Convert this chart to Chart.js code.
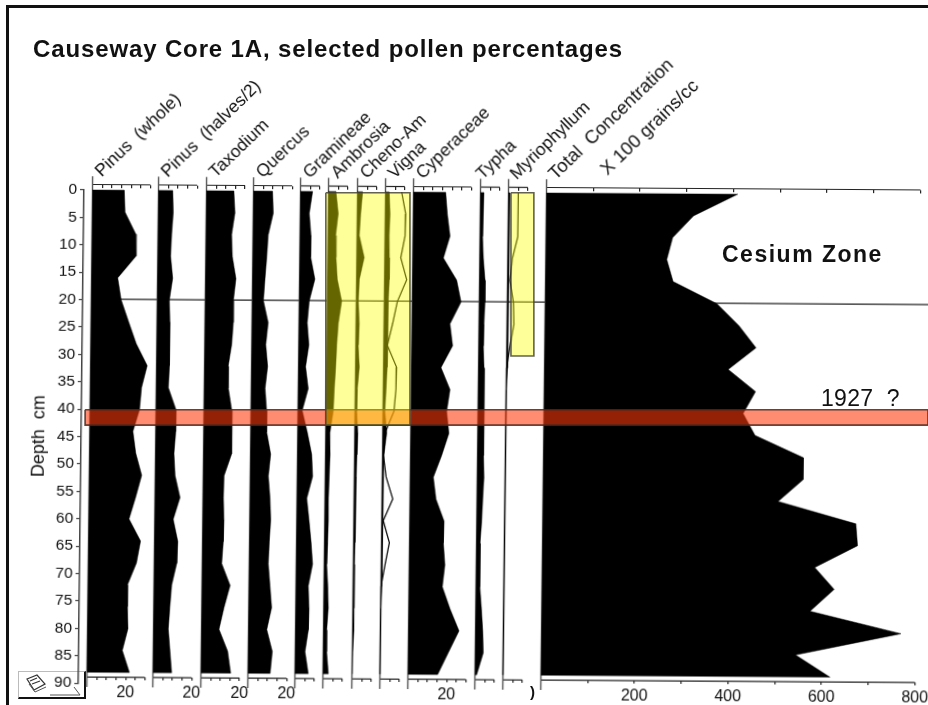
<!DOCTYPE html>
<html>
<head>
<meta charset="utf-8">
<title>Causeway Core 1A</title>
<script src="https://cdn.jsdelivr.net/npm/chart.js@4"></script>
<style>
    html, body { margin: 0; padding: 0; background: #fff; }
    body { width: 928px; height: 705px; overflow: hidden; position: relative; font-family: "Liberation Sans", Arial, sans-serif; color: #111; }
    #frameTop { position: absolute; left: 6px; top: 5px; width: 922px; height: 3px; background: #111; }
    #frameLeft { position: absolute; left: 6px; top: 5px; width: 3px; height: 700px; background: #111; }
    #mainChart { position: absolute; left: 0; top: 0; transform-origin: 92.5px 190px; transform: matrix(1, 0.0066, -0.0115, 1, 0, 0); filter: blur(0.35px); }
    #overlayChart { position: absolute; left: 0; top: 0; }
    .note { position: absolute; white-space: pre; }
    #title { left: 33px; top: 35px; font-size: 24px; font-weight: bold; letter-spacing: 0.87px; }
    #cesium { left: 722px; top: 241px; font-size: 23px; font-weight: bold; letter-spacing: 1.5px; }
    #year { left: 821px; top: 385px; font-size: 23px; letter-spacing: 0.3px; }
    #clipped { left: 530px; top: 683px; font-size: 15px; font-weight: bold; }
    #iconBox { position: absolute; left: 18px; top: 671px; width: 65px; height: 25px; background: #fff; border-left: 1px solid #bbb; border-top: 1px solid #bbb; border-right: 2px solid #111; border-bottom: 2px solid #111; }
</style>
</head>
<body>
<div id="iconBox">
    <svg width="65" height="25" viewBox="0 0 65 25">
        <path d="M8 7 L18 3 L26 12 L15 18 Z M11 9 L18 6 M13 12 L21 9" fill="none" stroke="#333" stroke-width="1.2"/>
        <path d="M10 12 L16 20 L27 15" fill="none" stroke="#555" stroke-width="1"/>
        <path d="M31 23 H61 L55 15" fill="none" stroke="#555" stroke-width="1"/>
    </svg>
</div>
<canvas id="mainChart" width="1000" height="705"></canvas>
<canvas id="overlayChart" width="928" height="705"></canvas>
<div id="frameTop"></div>
<div id="frameLeft"></div>
<div id="title" class="note">Causeway Core 1A, selected pollen percentages</div>
<div id="cesium" class="note">Cesium Zone</div>
<div id="year" class="note">1927  ?</div>
<div id="clipped" class="note">)</div>

<script>
// depth of each sample, cm
const depths = [0, 4, 8, 12, 16, 20, 24, 28, 32, 36, 40, 44, 48, 52, 56, 60, 64, 68, 72, 76, 80, 84, 88];

// pollen percentages
const pinusWhole  = [16.5, 17, 22.7, 23, 13.6, 15.5, 19.5, 23.6, 29.4, 26.6, 25.7, 22.4, 24, 27.2, 24.2, 20.9, 27, 25, 20.5, 20.6, 21, 18.2, 22];
const pinusHalves = [7.4, 7.8, 7.1, 6.7, 7.9, 6.3, 6.7, 6.9, 6.6, 6.3, 10.4, 10.4, 9.6, 10.3, 13, 9.6, 12.1, 11.7, 9.2, 8.4, 7.7, 8.7, 9.7];
const taxodium    = [14.2, 14.9, 13.3, 13.8, 15.8, 14.6, 14.7, 14, 12.3, 12.5, 14.4, 14.5, 14.7, 10.8, 10.6, 11, 10.8, 10.1, 14.6, 11.6, 9.1, 13.7, 15.4];
const quercus     = [9.9, 10.4, 7.9, 7.3, 6.5, 5.8, 8.4, 7.3, 8.4, 7.2, 8.1, 8.3, 10.5, 9.4, 10.4, 10.9, 10.3, 9.9, 10.9, 11.9, 9.5, 12.5, 11.5];
const gramineae   = [6.3, 4.7, 5.7, 5.7, 8, 5.2, 4.3, 5.3, 3.7, 5.2, 2.2, 5, 7.4, 8, 5.1, 6.4, 7.6, 8.5, 6.4, 6.9, 6.7, 5.1, 6.9];
const ambrosia    = [3.9, 5.2, 4, 4.3, 5.1, 7.5, 5.9, 5.2, 4.8, 4.2, 3.8, 2.2, 2.4, 2.1, 1.8, 1.9, 1.7, 1.3, 2, 2.4, 1.7, 1.8, 2.8];
const chenoAm     = [2.7, 1.8, 1.2, 3.9, 1.5, 1.1, 1.7, 1.3, 2, 1.1, 0.9, 1.6, 1.3, 1.1, 0.9, 0.8, 0.8, 0.7, 0.7, 0.7, 0.8, 0.3, 0.2];
const vigna       = [2, 2.5, 2.2, 2.4, 2.5, 2.1, 1.9, 1.9, 2, 1.5, 1, 2.1, 0.8, 0.7, 0.5, 0.5, 0.5, 0.5, 0.6, 0, 0, 0, 0];
const cyperaceae  = [16.7, 17.7, 19.2, 15.9, 22.9, 25.3, 19.7, 21.2, 15.3, 20.1, 18.5, 19.8, 16.2, 12, 13.5, 17.8, 17.6, 18.5, 17.3, 21.4, 26.2, 20.8, 15.4];
const typha       = [1.8, 1.3, 1.4, 1.9, 2.9, 3, 2.6, 2.4, 2.9, 3, 3.3, 3.3, 3.1, 3.5, 3, 2.6, 1.9, 2, 2.1, 3, 3.8, 4.2, 0.9];
const myriophyllum = [0.7, 0.7, 0.7, 0.7, 0.6, 0.6, 0.6, 0.5, 0.4, 0, 0, 0, 0, 0, 0, 0, 0, 0, 0, 0, 0, 0, 0];
const concentration = [409, 315, 271, 259, 273, 367, 415, 452, 393, 452, 426, 452, 556, 556, 503, 670, 674, 583, 625, 574, 769, 544, 618];

// the unfilled exaggeration curves
const vignaCurve = [8.4, 10.6, 10.4, 8.3, 11.5, 6.8, 4.5, 1.9, 6.8, 6.6, 5.7, 1.2, 0.5, 2, 5.6, 0.8, 4.1, 2, 0, 0, 0, 0, 0];
const myrioCurve = [5.1, 5.2, 5, 2.4, 1.3, 3.2, 3.6, 1.7, 0, 0, 0, 0, 0, 0, 0, 0, 0, 0, 0, 0, 0, 0, 0];

const panelNames = ['Pinus  (whole)', 'Pinus  (halves/2)', 'Taxodium', 'Quercus', 'Gramineae', 'Ambrosia', 'Cheno-Am', 'Vigna', 'Cyperaceae', 'Typha', 'Myriophyllum', 'Total  Concentration'];
const panelValues = [pinusWhole, pinusHalves, taxodium, quercus, gramineae, ambrosia, chenoAm, vigna, cyperaceae, typha, myriophyllum, concentration];
const panelEnds = [30, 20, 20, 20, 10, 10, 10, 10, 30, 10, 10, 800];
const panelStep = [5, 5, 5, 5, 5, 5, 5, 5, 5, 5, 5, 100];
const labelled = [[20], [20], [20], [20], [], [], [], [], [20], [], [], [200, 400, 600, 800]];

const secondHeader = 'X 100 grains/cc';
const secondHeaderAt = 130;
const depthTicksLabel = 'Depth  cm';

// cesium line, in concentration units
const cesiumDepth = 19.9;
const cesiumRange = [-910, 860];

// highlight boxes, also concentration units across and cm down
const redBandX = [-987, 816];
const redBandDepth = [40.1, 42.9];
const yellowOneX = [-472, -292];
const yellowOneDepth = [0.5, 42.9];
const yellowTwoX = [-76, -27];
const yellowTwoDepth = [0.5, 30.3];

// layout: where each panel's zero sits and how wide a unit is
const panelZeroPx = [92.5, 158.5, 206.5, 253.5, 300.5, 328.5, 357.5, 385.5, 413.5, 480.5, 508.5, 546.5];
const headerNudgePx = [9, 9, 9, 9, 9, 9, 9, 9, 9, 2, 8, 9];
const headerFontPx = [17.5, 17.5, 17.5, 17.5, 17.5, 17.5, 17.5, 17.5, 17.5, 17.5, 17.5, 18.5];
const pxPerPercent = 1.93;
const pxPerGrain = 0.4675;
const pxPerCm = 5.48;
const zeroDepthPx = 190;
const areaLeft = 84, areaRight = 1000;
const topAxisDepth = -1, bottomAxisDepth = 88.9;

Chart.defaults.font.family = '"Liberation Sans", Arial, sans-serif';
Chart.defaults.animation = false;

const scales = {
    y: {
        type: 'linear',
        position: 'left',
        reverse: true,
        min: 0,
        max: 90,
        afterFit: s => { s.width = areaLeft; },
        border: { color: '#444', width: 1.5 },
        grid: { drawOnChartArea: false, color: '#444', tickLength: 4, lineWidth: 1.2 },
        ticks: { stepSize: 5, color: '#111', padding: 3, font: { size: 15.5 } },
        title: { display: true, text: depthTicksLabel, color: '#111', font: { size: 18 }, padding: { top: 31, bottom: 0 } },
    },
};

const datasets = [];
const thin = { showLine: true, pointRadius: 0, tension: 0, clip: false, fill: false };

panelNames.forEach((name, i) => {
    const perPx = i === 11 ? 1 / pxPerGrain : 1 / pxPerPercent;
    const min = -(panelZeroPx[i] - areaLeft) * perPx;
    const max = (areaRight - panelZeroPx[i]) * perPx;
    const tickList = [];
    for (let v = panelStep[i]; v <= panelEnds[i]; v += panelStep[i]) tickList.push({ value: v });

    const axisFor = (depth, showLabels) => ({
        type: 'linear',
        axis: 'x',
        position: { y: depth },
        min,
        max,
        afterBuildTicks: s => { s.ticks = tickList.map(t => ({ value: t.value })); },
        border: { display: false },
        grid: { drawOnChartArea: false, color: '#222', tickLength: 3, lineWidth: 1.2 },
        ticks: {
            autoSkip: false,
            maxRotation: 0,
            padding: 3,
            color: '#111',
            font: { size: 16 },
            callback: v => (showLabels && labelled[i].includes(v) ? String(v) : ''),
        },
    });
    scales['top' + i] = axisFor(topAxisDepth, false);
    scales['bot' + i] = axisFor(bottomAxisDepth, true);

    const outline = [{ x: 0, y: depths[0] }]
        .concat(depths.map((d, k) => ({ x: panelValues[i][k], y: d })))
        .concat([{ x: 0, y: depths[depths.length - 1] }]);

    datasets.push({ data: outline, xAxisID: 'top' + i, yAxisID: 'y', showLine: true, backgroundColor: '#000', borderColor: '#000', borderWidth: 0.5, pointRadius: 0, tension: 0, clip: false, fill: 'shape' });
    datasets.push({ data: [{ x: 0, y: -2.5 }, { x: 0, y: 90.7 }], xAxisID: 'top' + i, yAxisID: 'y', borderColor: '#555', borderWidth: 1.4, ...thin });
    datasets.push({ data: [{ x: 0, y: topAxisDepth }, { x: panelEnds[i], y: topAxisDepth }], xAxisID: 'top' + i, yAxisID: 'y', borderColor: '#222', borderWidth: 1.2, ...thin });
    datasets.push({ data: [{ x: 0, y: bottomAxisDepth }, { x: panelEnds[i], y: bottomAxisDepth }], xAxisID: 'bot' + i, yAxisID: 'y', borderColor: '#222', borderWidth: 1.2, ...thin });
});

// exaggeration curves and the cesium line
datasets.push({ data: depths.map((d, k) => ({ x: vignaCurve[k], y: d })), xAxisID: 'top7', yAxisID: 'y', borderColor: '#111', borderWidth: 1.3, ...thin });
datasets.push({ data: depths.map((d, k) => ({ x: myrioCurve[k], y: d })), xAxisID: 'top10', yAxisID: 'y', borderColor: '#111', borderWidth: 1.3, ...thin });
datasets.push({ data: cesiumRange.map(x => ({ x, y: cesiumDepth })), xAxisID: 'top11', yAxisID: 'y', borderColor: '#222', borderWidth: 1.2, ...thin });

// slanted taxon names, tied to each panel's zero
const headerPlugin = {
    id: 'panelHeaders',
    afterDraw(chart) {
        const { ctx } = chart;
        const drawOne = (text, x, y, size) => {
            ctx.save();
            ctx.translate(x, y);
            ctx.rotate(-44.5 * Math.PI / 180);
            ctx.font = size + 'px "Liberation Sans", Arial, sans-serif';
            ctx.fillStyle = '#111';
            ctx.textBaseline = 'alphabetic';
            ctx.fillText(text, 0, 0);
            ctx.restore();
        };
        const headerY = chart.scales.y.getPixelForValue(-2.3);
        panelNames.forEach((name, i) => {
            drawOne(name, chart.scales['top' + i].getPixelForValue(0) + headerNudgePx[i], headerY, headerFontPx[i]);
        });
        drawOne(secondHeader, chart.scales.top11.getPixelForValue(secondHeaderAt), headerY - 5, 18.5);
    },
};

new Chart(document.getElementById('mainChart'), {
    type: 'scatter',
    data: { datasets },
    options: {
        responsive: false,
        layout: { padding: { top: zeroDepthPx, bottom: 705 - (zeroDepthPx + 90 * pxPerCm), left: 0, right: 0 } },
        plugins: { legend: { display: false }, tooltip: { enabled: false } },
        scales,
    },
    plugins: [headerPlugin],
});

// highlight boxes sit flat on the page, so they get their own chart on top
const boxPoints = (xs, ds) => [
    { x: xs[0], y: ds[0] }, { x: xs[1], y: ds[0] }, { x: xs[1], y: ds[1] }, { x: xs[0], y: ds[1] }, { x: xs[0], y: ds[0] },
];
const boxStyle = (fillColor, lineColor) => ({
    showLine: true, backgroundColor: fillColor, borderColor: lineColor, borderWidth: 1.6, pointRadius: 0, tension: 0, fill: 'shape',
});

new Chart(document.getElementById('overlayChart'), {
    type: 'scatter',
    data: {
        datasets: [
            { data: boxPoints(yellowOneX, yellowOneDepth), ...boxStyle('rgba(255,255,0,0.4)', 'rgba(70,70,50,0.85)') },
            { data: boxPoints(yellowTwoX, yellowTwoDepth), ...boxStyle('rgba(255,255,0,0.4)', 'rgba(70,70,50,0.85)') },
            { data: boxPoints(redBandX, redBandDepth), ...boxStyle('rgba(255,55,10,0.58)', 'rgba(70,40,30,0.85)') },
        ],
    },
    options: {
        responsive: false,
        layout: { padding: 0 },
        plugins: { legend: { display: false }, tooltip: { enabled: false } },
        scales: {
            x: { type: 'linear', display: false, min: -panelZeroPx[11] / pxPerGrain, max: (928 - panelZeroPx[11]) / pxPerGrain },
            y: { type: 'linear', display: false, reverse: true, min: -zeroDepthPx / pxPerCm, max: (705 - zeroDepthPx) / pxPerCm },
        },
    },
});
</script>
</body>
</html>
